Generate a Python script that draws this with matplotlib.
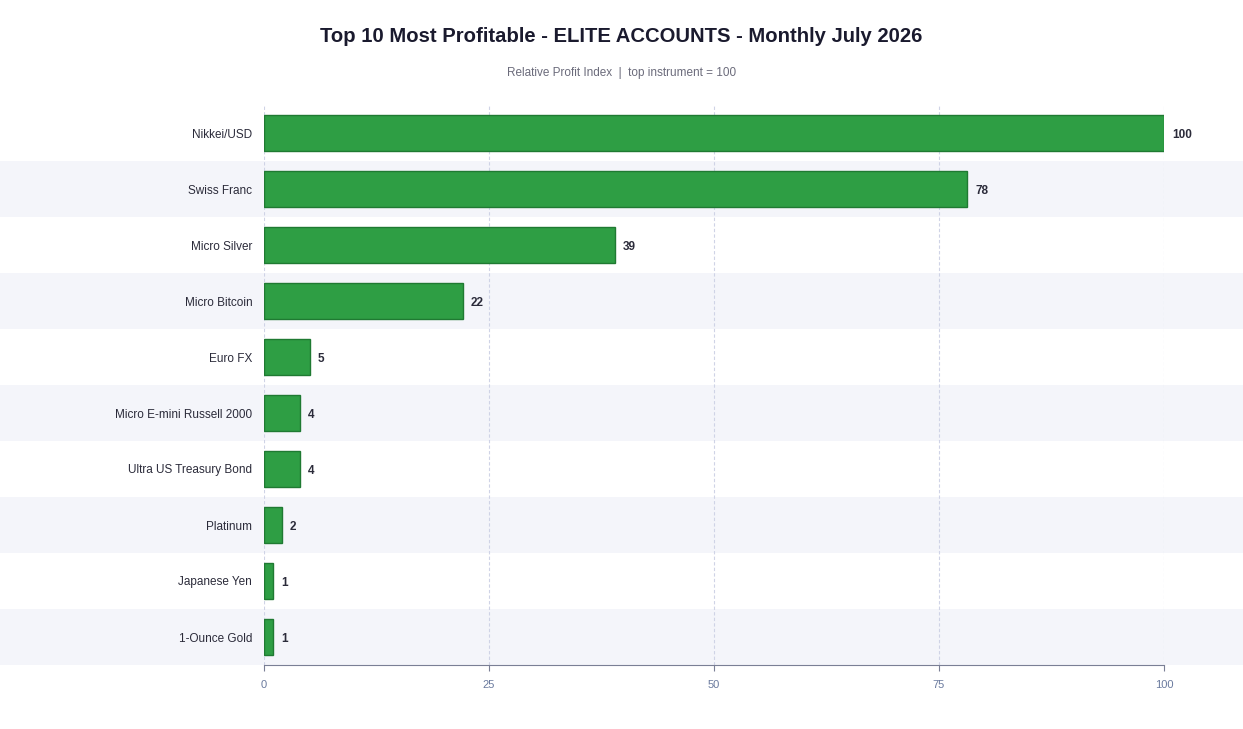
import matplotlib
matplotlib.use("Agg")
from matplotlib import pyplot as plt
import numpy as np

instruments = ["Nikkei/USD", "Swiss Franc", "Micro Silver", "Micro Bitcoin", "Euro FX",
               "Micro E-mini Russell 2000", "Ultra US Treasury Bond", "Platinum",
               "Japanese Yen", "1-Ounce Gold"]
values = [100, 78.1, 39, 22.1, 5.1, 4, 4, 2, 1, 1]
labels = ["100", "78", "39", "22", "5", "4", "4", "2", "1", "1"]
xticks = [0, 25, 50, 75, 100]

plt.rcParams['font.family'] = ['Liberation Sans', 'DejaVu Sans']

W, H = 1243, 729
fig = plt.figure(figsize=(W / 100, H / 100), dpi=100)
left, right, top, bottom = 264, 1164, 105, 665
ax = fig.add_axes([left / W, 1 - bottom / H, (right - left) / W, (bottom - top) / H])

y = np.arange(len(instruments))

# alternating row bands across the whole width
span = right - left
for i in y:
    if i % 2 == 1:
        ax.axhspan(i - 0.5, i + 0.5, xmin=-left / span, xmax=(W - left) / span,
                   color="#f4f5fa", zorder=0, clip_on=False, lw=0)

ax.barh(y, values, height=0.65, color="#2e9e44", edgecolor="#1f7a32", linewidth=1, zorder=3)

for yi, v, lab in zip(y, values, labels):
    ax.text(v + 0.9, yi, lab, va="center_baseline", ha="left", fontsize=8.5, fontweight="bold",
            color="#2b2b3a", zorder=4)

ax.set_xlim(0, 100)
ax.set_ylim(len(instruments) - 0.5, -0.5)
ax.set_yticks(y)
ax.set_yticklabels(instruments, fontsize=8.5, color="#2b2b3a")
ax.set_xticks(xticks)
ax.set_xticklabels([str(t) for t in xticks], fontsize=8, color="#6a7a9e")
ax.tick_params(axis="y", length=0, pad=8.5)
ax.tick_params(axis="x", length=4, color="#7a7f95", pad=7)

ax.grid(axis="x", linestyle=(0, (3, 2)), color="#cfd3e6", linewidth=0.8, zorder=1)
ax.set_axisbelow(True)
for s in ["top", "right", "left"]:
    ax.spines[s].set_visible(False)
ax.spines["bottom"].set_color("#7a7f95")
ax.patch.set_alpha(0)

fig.text(0.5, 1 - 36 / H, "Top 10 Most Profitable - ELITE ACCOUNTS - Monthly July 2026",
         ha="center", va="center", fontsize=14.6, fontweight="bold", color="#1a1a2e")
fig.text(0.5, 1 - 73 / H, "Relative Profit Index  |  top instrument = 100",
         ha="center", va="center", fontsize=8.5, color="#6b6b7b")

fig.savefig("out.png", dpi=100)
